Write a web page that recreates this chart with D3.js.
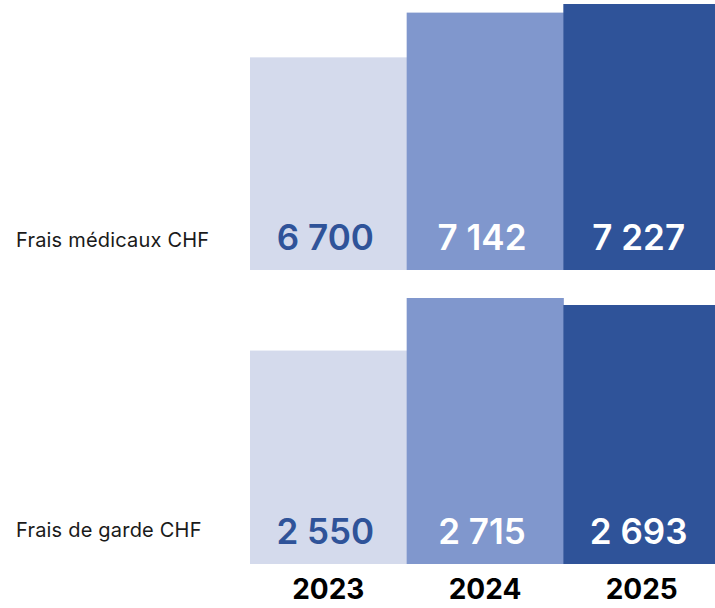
<!DOCTYPE html>
<html>
<head>
<meta charset="utf-8">
<script src="https://cdn.jsdelivr.net/npm/d3@7"></script>
<style>
  body { margin: 0; background: #fff; }
  svg { display: block; font-family: Inter, "Noto Sans", sans-serif; }
</style>
</head>
<body>
<div id="plotdiv"></div>
<script>
// data
const years = ["2023", "2024", "2025"];
const categories = ["Frais médicaux CHF", "Frais de garde CHF"];
const medical = [6700, 7142, 7227];
const childcare = [2550, 2715, 2693];
const series = [medical, childcare];

const width = 715, height = 608;
const barColors = ["#d4daec", "#8097cd", "#2f5399"];
const labelColors = ["#2f5399", "#ffffff", "#ffffff"];

// the bars do not start from zero in the original
const floors = [4600, 1880];
const maxBar = 266;

const fmt = d3.formatLocale({decimal: ",", thousands: " ", grouping: [3], currency: ["", ""]}).format(",d");

const svg = d3.select("#plotdiv")
  .append("svg")
  .attr("width", width)
  .attr("height", height);

const x = d3.scaleBand()
  .domain(years)
  .range([250, 720])
  .padding(0);

// baseline of each group
const g = d3.scalePoint()
  .domain(categories)
  .range([270, 564]);

categories.forEach((cat, ci) => {
  const vals = series[ci];
  const h = d3.scaleLinear()
    .domain([floors[ci], d3.max(vals)])
    .range([0, maxBar]);
  const base = g(cat);

  const grp = svg.append("g");

  grp.selectAll("rect")
    .data(vals)
    .enter()
    .append("rect")
    .attr("x", (v, i) => x(years[i]))
    .attr("y", v => base - h(v))
    .attr("width", x.bandwidth() + 0.5)
    .attr("height", v => h(v))
    .style("fill", (v, i) => barColors[i]);

  grp.selectAll("text.val")
    .data(vals)
    .enter()
    .append("text")
    .attr("class", "val")
    .attr("x", (v, i) => x(years[i]) + x.bandwidth() / 2 - 3)
    .attr("y", base - 20)
    .attr("text-anchor", "middle")
    .style("font-size", "35px")
    .style("font-weight", 600)
    .style("fill", (v, i) => labelColors[i])
    .text(v => fmt(v));

  grp.append("text")
    .attr("x", 16)
    .attr("y", base - 23 - 4 * ci)
    .style("font-size", "20px")
    .style("letter-spacing", "0.2px")
    .style("fill", "#1a1a1a")
    .text(cat);
});

svg.selectAll("text.year")
  .data(years)
  .enter()
  .append("text")
  .attr("class", "year")
  .attr("x", d => x(d) + x.bandwidth() / 2)
  .attr("y", 599)
  .attr("text-anchor", "middle")
  .style("font-size", "28px")
  .style("font-weight", 700)
  .style("fill", "#000")
  .text(d => d);
</script>
</body>
</html>
